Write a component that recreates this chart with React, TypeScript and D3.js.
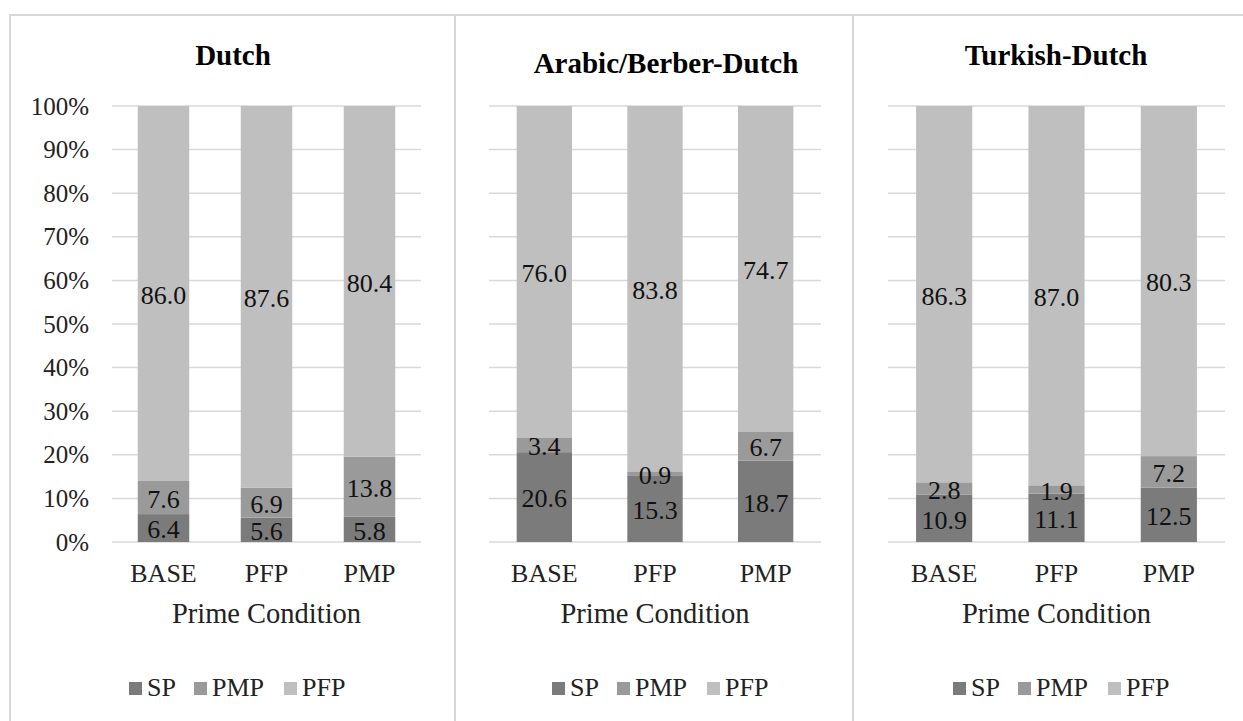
import React from "react";
import * as d3 from "d3";

const panelTitles = ["Dutch", "Arabic/Berber-Dutch", "Turkish-Dutch"];
const categories = ["BASE", "PFP", "PMP"];
const seriesNames = ["SP", "PMP", "PFP"];
const spValues = [
  [6.4, 5.6, 5.8],
  [20.6, 15.3, 18.7],
  [10.9, 11.1, 12.5],
];
const pmpValues = [
  [7.6, 6.9, 13.8],
  [3.4, 0.9, 6.7],
  [2.8, 1.9, 7.2],
];
const pfpValues = [
  [86.0, 87.6, 80.4],
  [76.0, 83.8, 74.7],
  [86.3, 87.0, 80.3],
];
const yTicks = [0, 10, 20, 30, 40, 50, 60, 70, 80, 90, 100];
const xAxisTitle = "Prime Condition";

const colors = ["#7b7b7b", "#9a9a9a", "#bfbfbf"];
const FONT = "Liberation Serif, DejaVu Serif, serif";

const layouts = [
  { x0: 10, x1: 455, px0: 112, px1: 421, tx: 233, ty: 65, lx: 236, showY: true },
  { x0: 455, x1: 853, px0: 489, px1: 821, tx: 666, ty: 73, lx: 659, showY: false },
  { x0: 853, x1: 1260, px0: 888, px1: 1225, tx: 1056, ty: 65, lx: 1060, showY: false },
];

const Y0 = 542;
const Y1 = 106;

function Panel({ idx }: { idx: number }) {
  const L = layouts[idx];
  const rows = categories.map((c, i) => ({
    cat: c,
    SP: spValues[idx][i],
    PMP: pmpValues[idx][i],
    PFP: pfpValues[idx][i],
  }));
  const stack = d3
    .stack<any>()
    .keys(seriesNames)
    .offset(d3.stackOffsetExpand);
  const series = stack(rows);
  const x = d3
    .scaleBand<string>()
    .domain(categories)
    .range([L.px0, L.px1])
    .paddingInner(0.5)
    .paddingOuter(0.25);
  const y = d3.scaleLinear().domain([0, 100]).range([Y0, Y1]);
  const yFrac = (v: number) => y(v * 100);

  const sq = 13;
  const gapSqText = 5;
  const itemGap = 20;
  const charW: Record<string, number> = { SP: 27, PMP: 52, PFP: 41 };
  const totalW = seriesNames.reduce(
    (s, n, i) => s + sq + gapSqText + charW[n] + (i < seriesNames.length - 1 ? itemGap : 0),
    0
  );
  let cursor = L.lx - totalW / 2;
  const legendItems = seriesNames.map((n, i) => {
    const xs = cursor;
    cursor += sq + gapSqText + charW[n] + itemGap;
    return { n, xs, color: colors[i] };
  });

  const txt = (size: number, weight = "normal") => ({
    fontFamily: FONT,
    fontSize: size + "px",
    fontWeight: weight,
  });

  return (
    <g>
      <rect
        x={L.x0}
        y={15}
        width={L.x1 - L.x0}
        height={800}
        fill="none"
        stroke="#d6d6d6"
        strokeWidth={2}
      />
      <text x={L.tx} y={L.ty} textAnchor="middle" style={txt(29, "bold")} fill="#000">
        {panelTitles[idx]}
      </text>
      {yTicks.map((t) => (
        <line
          key={t}
          x1={L.px0}
          x2={L.px1}
          y1={y(t)}
          y2={y(t)}
          stroke="#d9d9d9"
          strokeWidth={1.5}
        />
      ))}
      {L.showY &&
        yTicks.map((t) => (
          <text
            key={"yl" + t}
            x={89}
            y={y(t)}
            dy="0.34em"
            textAnchor="end"
            style={txt(25)}
            fill="#222"
          >
            {t + "%"}
          </text>
        ))}
      {series.map((s, si) =>
        s.map((d: any, ci: number) => (
          <rect
            key={si + "-" + ci}
            x={x(categories[ci])!}
            y={yFrac(d[1])}
            width={x.bandwidth()}
            height={yFrac(d[0]) - yFrac(d[1])}
            fill={colors[si]}
          />
        ))
      )}
      {series.map((s, si) =>
        s.map((d: any, ci: number) => (
          <text
            key={"v" + si + "-" + ci}
            x={x(categories[ci])! + x.bandwidth() / 2}
            y={(yFrac(d[0]) + yFrac(d[1])) / 2}
            dy="0.4em"
            textAnchor="middle"
            style={txt(26)}
            fill="#111"
          >
            {d.data[seriesNames[si]].toFixed(1)}
          </text>
        ))
      )}
      {categories.map((c) => (
        <text
          key={"c" + c}
          x={x(c)! + x.bandwidth() / 2}
          y={582}
          textAnchor="middle"
          style={txt(26)}
          fill="#222"
        >
          {c}
        </text>
      ))}
      <text
        x={(L.px0 + L.px1) / 2}
        y={623}
        textAnchor="middle"
        style={txt(28.5)}
        fill="#222"
      >
        {xAxisTitle}
      </text>
      {legendItems.map((it) => (
        <g key={"lg" + it.n}>
          <rect x={it.xs} y={682} width={sq} height={sq} fill={it.color} />
          <text x={it.xs + sq + gapSqText} y={696} style={txt(26)} fill="#222">
            {it.n}
          </text>
        </g>
      ))}
    </g>
  );
}

export default function App() {
  return (
    <svg
      width={1243}
      height={721}
      style={{ position: "absolute", left: 0, top: 0, background: "#fff" }}
    >
      <rect x={0} y={0} width={1243} height={721} fill="#fff" />
      {panelTitles.map((_, i) => (
        <Panel key={i} idx={i} />
      ))}
    </svg>
  );
}
